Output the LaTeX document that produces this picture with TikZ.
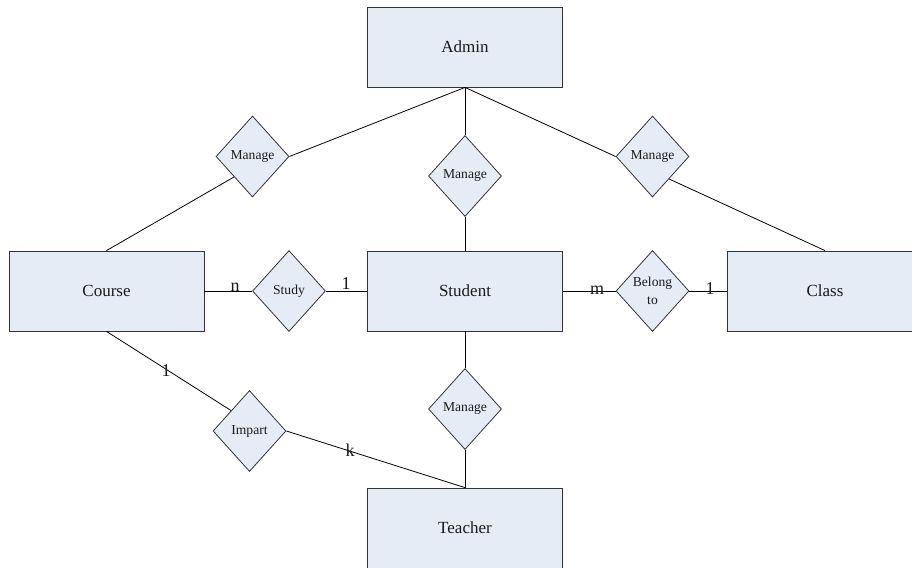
\documentclass[tikz,border=0pt]{standalone}
\usepackage{fontspec}
\setmainfont{Liberation Serif}
\usetikzlibrary{shapes.geometric,calc}
\definecolor{entfill}{HTML}{E5ECF6}
\definecolor{entline}{HTML}{333333}
\definecolor{txt}{HTML}{1A1A1A}
\tikzset{
  entity/.style={draw=entline, fill=entfill, line width=0.8pt, rectangle,
    minimum width=195pt, minimum height=80pt, inner sep=0pt,
    text=txt, font=\fontsize{17}{20}\selectfont},
  relation/.style={draw=entline, fill=entfill, line width=0.8pt, diamond,
    minimum width=73pt, minimum height=81pt, inner sep=0pt, shape aspect=0.9,
    text=txt, align=center, font=\fontsize{13.6}{18}\selectfont},
  link/.style={draw=black, line width=0.8pt},
  card/.style={inner sep=0pt, text=txt, font=\fontsize{18}{20}\selectfont}
}
\begin{document}
\begin{tikzpicture}[x=1pt, y=-1pt]
  \useasboundingbox (0,0) rectangle (912,567);
  \clip (0,0) rectangle (912,567);

  % entities
  \node[entity] (admin)   at (465,47)  {Admin};
  \node[entity] (course)  at (106.5,291) {Course};
  \node[entity] (student) at (465,291) {Student};
  \node[entity] (class)   at (825,291) {Class};
  \node[entity] (teacher) at (465,528) {Teacher};

  % relationships
  \node[relation] (mcourse)  at (252.5,156.5) {Manage};
  \node[relation] (mstudent) at (465,176)     {Manage};
  \node[relation] (mclass)   at (652.5,156.5) {Manage};
  \node[relation] (mteacher) at (465,409)     {Manage};
  \node[relation] (study)    at (289,291)     {Study};
  \node[relation] (belong)   at (652.5,291)   {Belong\\to};
  \node[relation] (impart)   at (249.5,431)   {Impart};

  % attachment points on diamond edges
  \coordinate (mcourse-sw) at ($(mcourse.west)!0.5!(mcourse.south)$);
  \coordinate (mclass-se)  at ($(mclass.east)!0.55!(mclass.south)$);
  \coordinate (impart-nw)  at ($(impart.west)!0.5!(impart.north)$);

  % connectors
  \draw[link] (admin.south) -- (mstudent.north);
  \draw[link] (mstudent.south) -- (student.north);
  \draw[link] (admin.south) -- (mcourse.east);
  \draw[link] (mcourse-sw) -- (course.north);
  \draw[link] (admin.south) -- (mclass.west);
  \draw[link] (mclass-se) -- (class.north);
  \draw[link] (course.east) -- (study.west);
  \draw[link] (study.east) -- (student.west);
  \draw[link] (student.east) -- (belong.west);
  \draw[link] (belong.east) -- (class.west);
  \draw[link] (student.south) -- (mteacher.north);
  \draw[link] (mteacher.south) -- (teacher.north);
  \draw[link] (course.south) -- (impart-nw);
  \draw[link] (impart.east) -- (teacher.north);

  % cardinalities
  \node[card] (cn)  at (235,287) {n};
  \node[card] (c1a) at (346,284) {1};
  \node[card] (cm)  at (597,290) {m};
  \node[card] (c1b) at (710,289) {1};
  \node[card] (c1c) at (166,371) {1};
  \node[card] (ck)  at (350,450) {k};
\end{tikzpicture}
\end{document}
